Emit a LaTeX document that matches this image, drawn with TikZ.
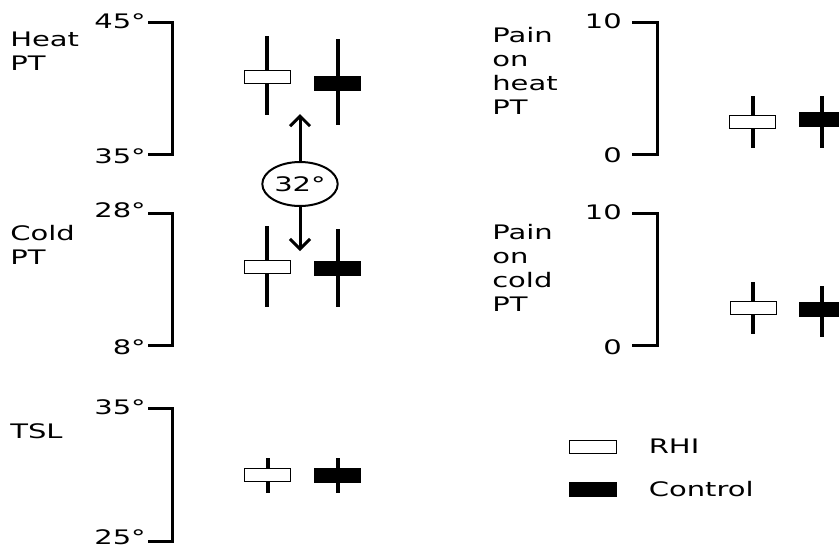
\documentclass[tikz,border=0pt]{standalone}
\usepackage{fontspec}
\setmainfont{DejaVu Sans}
\usetikzlibrary{positioning, arrows.meta, shapes.geometric}

\begin{document}
\begin{tikzpicture}[
    x=1pt, y=-1pt,
    >={Straight Barb[length=10pt, width=20pt]},
    lbl/.style={font=\fontsize{20}{24}\selectfont, xscale=1.45, inner sep=0pt, align=left},
    tick/.style={lbl, anchor=east},
    axis/.style={line width=3pt},
    whisker/.style={line width=3.5pt},
    rhibox/.style={draw, fill=white, line width=1pt, minimum width=46pt, minimum height=13pt, inner sep=0pt},
    ctrlbox/.style={draw, fill=black, line width=1pt, minimum width=46pt, minimum height=14pt, inner sep=0pt}
]
\clip (0,0) rectangle (839,550);

% 左列标题
\node[lbl, anchor=north west] (heatPT) at (10,32) {Heat\\PT};
\node[lbl, anchor=north west] (coldPT) at (10,225) {Cold\\PT};
\node[lbl, anchor=north west] (tsl) at (10,423) {TSL};

% 左列刻度
\node[tick] (h45) at (146,21) {45°};
\node[tick] (h35) at (146,156) {35°};
\node[tick] (c28) at (146,210) {28°};
\node[tick] (c8) at (146,347) {8°};
\node[tick] (t35) at (146,407) {35°};
\node[tick] (t25) at (146,537) {25°};
\draw[axis] (148,22) -| (172,154) -- (148,154);
\draw[axis] (148,213) -| (172,345) -- (148,345);
\draw[axis] (148,408) -| (172,541) -- (148,541);

% 右列标题
\node[lbl, anchor=north west] (painHeat) at (492,27) {Pain\\on\\heat\\PT};
\node[lbl, anchor=north west] (painCold) at (492,224) {Pain\\on\\cold\\PT};

% 右列刻度
\node[tick] (ph10) at (622,21) {10};
\node[tick] (ph0) at (622,155) {0};
\node[tick] (pc10) at (622,212) {10};
\node[tick] (pc0) at (622,347) {0};
\draw[axis] (632,22) -| (657,154) -- (632,154);
\draw[axis] (632,213) -| (657,345) -- (632,345);

% 须线
\draw[whisker] (267,36) -- (267,115);
\draw[whisker] (338,39) -- (338,125);
\draw[whisker] (267,226) -- (267,307);
\draw[whisker] (338,229) -- (338,307);
\draw[whisker] (268,458) -- (268,493);
\draw[whisker] (338,458) -- (338,493);
\draw[whisker] (753,96) -- (753,148);
\draw[whisker] (822,96) -- (822,148);
\draw[whisker] (753,282) -- (753,334);
\draw[whisker] (822,286) -- (822,337);

% 箱体
\node[rhibox] (rhiHeat) at (267,76.5) {};
\node[ctrlbox] (ctrlHeat) at (337,83.5) {};
\node[rhibox] (rhiCold) at (267,266.5) {};
\node[ctrlbox] (ctrlCold) at (337,268) {};
\node[rhibox] (rhiTsl) at (267,475) {};
\node[ctrlbox] (ctrlTsl) at (337,475) {};
\node[rhibox] (rhiPh) at (752,121.5) {};
\node[ctrlbox] (ctrlPh) at (822,119.5) {};
\node[rhibox] (rhiPc) at (753,307.5) {};
\node[ctrlbox] (ctrlPc) at (822,309.5) {};

% 参考温度
\node[lbl, ellipse, draw, line width=2pt, minimum width=52pt, minimum height=44pt, align=center] (ref) at (300,184) {32°};
\coordinate (heatUp) at (300,114);
\coordinate (coldDown) at (300,251);
\draw[->, line width=3pt] (ref.north) -- (heatUp);
\draw[->, line width=3pt] (ref.south) -- (coldDown);

% 图例
\node[rhibox, minimum width=47pt] (legRHI) at (592.5,446.5) {};
\node[ctrlbox, minimum width=47pt] (legCtrl) at (592.5,489) {};
\node[lbl, right=32pt of legRHI] (txtRHI) {RHI};
\node[lbl, right=32pt of legCtrl] (txtCtrl) {Control};

\end{tikzpicture}
\end{document}
